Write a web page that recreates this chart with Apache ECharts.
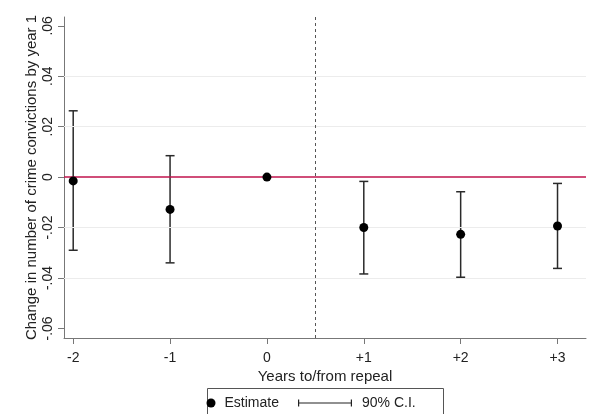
<!DOCTYPE html>
<html>
<head>
<meta charset="utf-8">
<script src="https://cdn.jsdelivr.net/npm/echarts@6/dist/echarts.min.js"></script>
<style>
html,body{margin:0;padding:0;background:#fff;}
#chart{width:600px;height:414px;}
</style>
</head>
<body>
<div id="chart"></div>
<script>
// ---- data ----
var xValues = [-2, -1, 0, 1, 2, 3];
var estimates = [-0.0015, -0.0128, 0, -0.0200, -0.0227, -0.0194];
var ciUpper = [0.0263, 0.0085, null, -0.0017, -0.0058, -0.0025];
var ciLower = [-0.0290, -0.0340, null, -0.0384, -0.0397, -0.0362];
var xTickValues = [-2, -1, 0, 1, 2, 3];
var xTickLabels = ['-2', '-1', '0', '+1', '+2', '+3'];
var yTickValues = [-0.06, -0.04, -0.02, 0, 0.02, 0.04, 0.06];
var yTickLabels = ['-.06', '-.04', '-.02', '0', '.02', '.04', '.06'];
var yGridValues = [-0.04, -0.02, 0.02, 0.04];
var refLineY = 0;
var repealX = 0.5;
var xTitle = 'Years to/from repeal';
var yTitle = 'Change in number of crime convictions by year 1';
var legendNames = ['Estimate', '90% C.I.'];

var FONT = '"Liberation Sans", Arial, sans-serif';

function lookup(vals, labels, v) {
  var best = 0, bd = Infinity;
  for (var i = 0; i < vals.length; i++) {
    var d = Math.abs(vals[i] - v);
    if (d < bd) { bd = d; best = i; }
  }
  return bd < 1e-9 ? labels[best] : '';
}

var estData = xValues.map(function (x, i) { return [x, estimates[i]]; });
var ciData = [];
xValues.forEach(function (x, i) {
  if (ciUpper[i] != null && ciLower[i] != null) ciData.push([x, ciLower[i], ciUpper[i]]);
});

var chart = echarts.init(document.getElementById('chart'), null, {renderer: 'canvas'});
var option = {
  backgroundColor: '#ffffff',
  animation: false,
  grid: {left: 64, right: 14, top: 17, bottom: 76, containLabel: false},
  xAxis: {
    type: 'value',
    min: -2.095,
    max: 3.294,
    name: xTitle,
    nameLocation: 'middle',
    nameGap: 31,
    nameMoveOverlap: false,
    nameTextStyle: {fontFamily: FONT, fontSize: 15, color: '#222'},
    axisLine: {show: true, onZero: false, lineStyle: {color: '#777', width: 1}},
    axisTick: {show: true, length: 6, customValues: xTickValues, lineStyle: {color: '#777'}},
    axisLabel: {
      show: true, margin: 13, customValues: xTickValues,
      fontFamily: FONT, fontSize: 14, color: '#222',
      formatter: function (v) { return lookup(xTickValues, xTickLabels, v); }
    },
    splitLine: {show: false}
  },
  yAxis: {
    type: 'value',
    min: -0.0638,
    max: 0.0635,
    name: yTitle,
    nameLocation: 'middle',
    nameGap: 25,
    nameMoveOverlap: false,
    nameRotate: 90,
    nameTextStyle: {fontFamily: FONT, fontSize: 15, color: '#222'},
    axisLine: {show: true, onZero: false, lineStyle: {color: '#777', width: 1}},
    axisTick: {show: true, length: 6, customValues: yTickValues, lineStyle: {color: '#777'}},
    axisLabel: {
      show: true, margin: 9, rotate: 90, customValues: yTickValues,
      fontFamily: FONT, fontSize: 14, color: '#222',
      formatter: function (v) { return lookup(yTickValues, yTickLabels, v); }
    },
    splitLine: {show: false}
  },
  legend: [
    {
      data: [{name: legendNames[0], icon: 'circle'}],
      left: 206.5, top: 396, padding: 0,
      itemWidth: 17, itemHeight: 9,
      textStyle: {fontFamily: FONT, fontSize: 14, color: '#222'},
      selectedMode: false
    },
    {
      data: [{name: legendNames[1], icon: 'path://M0,0h1.2v7h-1.2z M0,2.9h54v1.2h-54z M52.8,0h1.2v7h-1.2z'}],
      left: 298, top: 396, padding: 0,
      itemWidth: 64, itemHeight: 7,
      textStyle: {fontFamily: FONT, fontSize: 14, color: '#222'},
      selectedMode: false
    }
  ],
  graphic: [{
    type: 'rect', z: -1, silent: true,
    shape: {x: 207.5, y: 388.5, width: 236, height: 40},
    style: {fill: '#fff', stroke: '#555', lineWidth: 1}
  }],
  series: [
    {
      name: 'grid',
      type: 'line',
      data: [],
      silent: true,
      markLine: {
        silent: true, symbol: 'none', animation: false,
        label: {show: false},
        lineStyle: {color: '#ececec', width: 1, type: 'solid'},
        data: yGridValues.map(function (v) { return {yAxis: v}; })
      }
    },
    {
      name: legendNames[1],
      type: 'custom',
      itemStyle: {color: '#222'},
      data: ciData,
      z: 3,
      renderItem: function (params, api) {
        var x = api.value(0);
        var lo = api.coord([x, api.value(1)]);
        var hi = api.coord([x, api.value(2)]);
        var hw = 4.5;
        var st = {stroke: '#2a2a2a', lineWidth: 1.5};
        return {
          type: 'group',
          children: [
            {type: 'line', shape: {x1: lo[0], y1: lo[1], x2: hi[0], y2: hi[1]}, style: st},
            {type: 'line', shape: {x1: lo[0] - hw, y1: lo[1], x2: lo[0] + hw, y2: lo[1]}, style: st},
            {type: 'line', shape: {x1: hi[0] - hw, y1: hi[1], x2: hi[0] + hw, y2: hi[1]}, style: st}
          ]
        };
      }
    },
    {
      name: legendNames[0],
      type: 'scatter',
      symbol: 'circle',
      symbolSize: 9,
      itemStyle: {color: '#000', opacity: 1},
      z: 5,
      data: estData,
      markLine: {
        silent: true, symbol: 'none', animation: false,
        label: {show: false},
        data: [
          {yAxis: refLineY, lineStyle: {color: '#c0134d', width: 1.5, type: 'solid'}},
          {xAxis: repealX, lineStyle: {color: '#555', width: 1, type: [3, 3]}}
        ]
      }
    }
  ]
};
chart.setOption(option);
</script>
</body>
</html>
